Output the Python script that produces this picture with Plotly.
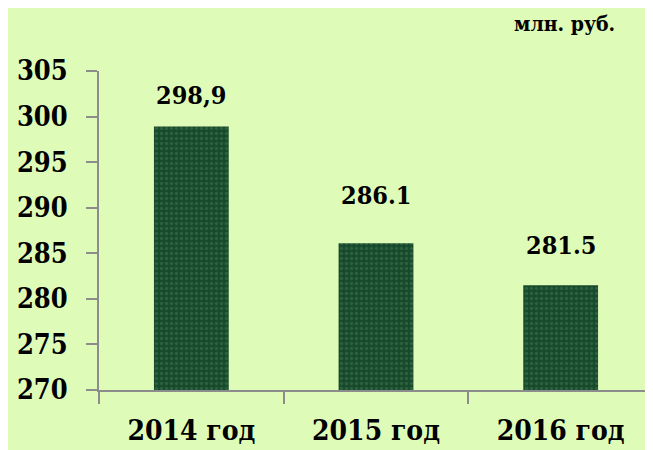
import plotly.graph_objects as go

# Data
years = ["2014 год", "2015 год", "2016 год"]
values = [298.9, 286.1, 281.5]
value_labels = ["298,9", "286.1", "281.5"]
y_ticks = [270, 275, 280, 285, 290, 295, 300, 305]
y_base = 270

label_shift = [15, 31, 23]  # gap between bar top and its label, px

serif = "DejaVu Serif Condensed"

fig = go.Figure()
fig.add_trace(go.Bar(
    x=years,
    y=[v - y_base for v in values],
    base=y_base,
    width=0.405,
    marker=dict(
        color="#1d5633",
        line_width=0,
        pattern=dict(shape=".", fgcolor="#3d7a55", bgcolor="#18492b",
                     size=5, solidity=0.35, fillmode="overlay"),
    ),
    hoverinfo="skip",
))

for yr, v, t, s in zip(years, values, value_labels, label_shift):
    fig.add_annotation(x=yr, y=v, text="<b>" + t + "</b>", showarrow=False, yanchor="bottom",
                       yshift=s, font=dict(family=serif, size=25, color="black"))

fig.add_annotation(x=1, xref="paper", xanchor="right", xshift=-36,
                   y=1.15, yref="paper", yanchor="middle",
                   text="<b>млн. руб.</b>", showarrow=False,
                   font=dict(family=serif, size=21, color="black"))

# page body has an 8px margin, so the plot area is shifted back by 8px
fig.update_layout(
    width=653, height=450,
    margin=dict(l=91, r=8, t=63, b=68),
    paper_bgcolor="#dffbb8",
    plot_bgcolor="#dffbb8",
    showlegend=False,
    xaxis=dict(
        automargin=False,
        showgrid=False, showline=True, linecolor="#8c8c8c", linewidth=2,
        ticks="outside", tickson="boundaries", ticklen=12, tickcolor="#8c8c8c", tickwidth=2,
        tickvals=years, ticktext=["<b>" + y + "</b>" for y in years],
        tickfont=dict(family=serif, size=28, color="black"),
        ticklabelstandoff=14,
    ),
    yaxis=dict(
        automargin=False,
        range=[270, 305], tickvals=y_ticks, ticktext=["<b>%d</b>" % t for t in y_ticks],
        showgrid=False, zeroline=False,
        showline=True, linecolor="#8c8c8c", linewidth=2,
        ticks="outside", ticklen=11, tickcolor="#8c8c8c", tickwidth=2,
        tickfont=dict(family=serif, size=27, color="black"),
        ticklabelstandoff=13,
    ),
)

fig.write_html("out.html")
